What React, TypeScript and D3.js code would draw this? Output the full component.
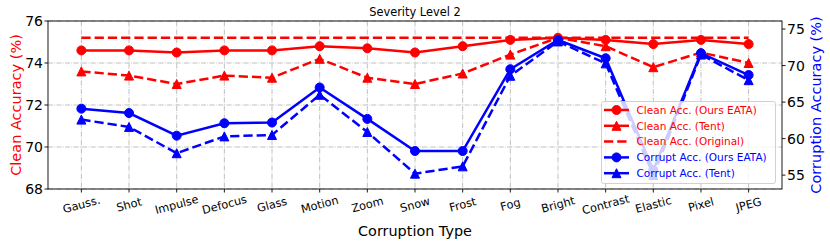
import React from 'react';
import * as d3 from 'd3';

const categories = ['Gauss.', 'Shot', 'Impulse', 'Defocus', 'Glass', 'Motion', 'Zoom', 'Snow', 'Frost', 'Fog', 'Bright', 'Contrast', 'Elastic', 'Pixel', 'JPEG'];

// left axis (clean accuracy)
const cleanEata = [74.6, 74.6, 74.5, 74.6, 74.6, 74.8, 74.7, 74.5, 74.8, 75.1, 75.2, 75.1, 74.9, 75.1, 74.9];
const cleanTent = [73.6, 73.4, 73.0, 73.4, 73.3, 74.2, 73.3, 73.0, 73.5, 74.4, 75.2, 74.8, 73.8, 74.5, 74.0];
const cleanOriginal = [75.2, 75.2, 75.2, 75.2, 75.2, 75.2, 75.2, 75.2, 75.2, 75.2, 75.2, 75.2, 75.2, 75.2, 75.2];

// right axis (corruption accuracy)
const corruptEata = [64.1, 63.5, 60.4, 62.1, 62.2, 67.0, 62.7, 58.3, 58.3, 69.5, 73.5, 71.0, 55.7, 71.7, 68.7];
const corruptTent = [62.6, 61.6, 58.0, 60.3, 60.5, 66.0, 60.9, 55.2, 56.2, 68.6, 73.3, 70.3, 55.0, 71.5, 68.0];

const leftTicks = [68, 70, 72, 74, 76];
const rightTicks = [55, 60, 65, 70, 75];

const RED = '#ff0000';
const BLUE = '#0000ff';
const FONT = 'DejaVu Sans, sans-serif';

const left = 48, right = 782, top = 21, bottom = 189;

const App = () => {
  const x = d3.scalePoint<string>().domain(categories).range([left, right]).padding(0.7);
  const yL = d3.scaleLinear().domain([68, 76]).range([bottom, top]);
  const yR = d3.scaleLinear().domain([53.1, 76.1]).range([bottom, top]);

  const lineFor = (vals: number[], y: d3.ScaleLinear<number, number>) =>
    d3.line<number>().x((_, i) => x(categories[i]) as number).y((d) => y(d))(vals) as string;

  const tri = (cx: number, cy: number, s = 9) =>
    `M${cx},${cy - s / 2}L${cx - s / 2},${cy + s / 2}L${cx + s / 2},${cy + s / 2}Z`;

  const series = [
    { vals: cleanEata, y: yL, color: RED, dash: null, marker: 'circle' },
    { vals: cleanTent, y: yL, color: RED, dash: '9.25,4', marker: 'triangle' },
    { vals: cleanOriginal, y: yL, color: RED, dash: '9.25,4', marker: null },
    { vals: corruptEata, y: yR, color: BLUE, dash: null, marker: 'circle' },
    { vals: corruptTent, y: yR, color: BLUE, dash: '9.25,4', marker: 'triangle' },
  ];

  const legendItems = [
    { label: 'Clean Acc. (Ours EATA)', color: RED, dash: null, marker: 'circle' },
    { label: 'Clean Acc. (Tent)', color: RED, dash: null, marker: 'triangle' },
    { label: 'Clean Acc. (Original)', color: RED, dash: '9.25,4', marker: null },
    { label: 'Corrupt Acc. (Ours EATA)', color: BLUE, dash: null, marker: 'circle' },
    { label: 'Corrupt Acc. (Tent)', color: BLUE, dash: null, marker: 'triangle' },
  ];

  return (
    <svg width={830} height={248} style={{ position: 'absolute', left: 0, top: 0 }} fontFamily={FONT}>
      <rect width={830} height={248} fill="#fff" />
      {/* grid */}
      <g stroke="#b0b0b0" strokeWidth={0.8} strokeDasharray="5.1,1.3,0.8,1.3">
        {categories.map((c) => (
          <line key={c} x1={x(c)} x2={x(c)} y1={top} y2={bottom} />
        ))}
        {leftTicks.map((t) => (
          <line key={t} x1={left} x2={right} y1={yL(t)} y2={yL(t)} />
        ))}
      </g>

      {/* series */}
      {series.map((s, k) => (
        <g key={k}>
          <path d={lineFor(s.vals, s.y)} fill="none" stroke={s.color} strokeWidth={2.5}
            strokeDasharray={s.dash || undefined} />
          {s.marker === 'circle' && s.vals.map((v, i) => (
            <circle key={i} cx={x(categories[i])} cy={s.y(v)} r={4.5} fill={s.color} stroke={s.color} />
          ))}
          {s.marker === 'triangle' && s.vals.map((v, i) => (
            <path key={i} d={tri(x(categories[i]) as number, s.y(v))} fill={s.color} stroke={s.color} />
          ))}
        </g>
      ))}

      {/* spines */}
      <rect x={left} y={top} width={right - left} height={bottom - top} fill="none" stroke="#000" strokeWidth={0.9} />

      {/* left axis */}
      {leftTicks.map((t) => (
        <g key={t}>
          <line x1={left - 3.5} x2={left} y1={yL(t)} y2={yL(t)} stroke="#000" strokeWidth={0.9} />
          <text x={left - 5} y={yL(t)} dy="0.36em" textAnchor="end" fontSize={14}>{t}</text>
        </g>
      ))}
      {/* right axis */}
      {rightTicks.map((t) => (
        <g key={t}>
          <line x1={right} x2={right + 3.5} y1={yR(t)} y2={yR(t)} stroke="#000" strokeWidth={0.9} />
          <text x={right + 5} y={yR(t)} dy="0.36em" textAnchor="start" fontSize={14}>{t}</text>
        </g>
      ))}
      {/* bottom axis */}
      {categories.map((c) => (
        <g key={c}>
          <line x1={x(c)} x2={x(c)} y1={bottom} y2={bottom + 3.5} stroke="#000" strokeWidth={0.9} />
          <text transform={`translate(${x(c)},${204.5}) rotate(-15)`} textAnchor="middle" dy="0.35em" fontSize={11.3}>{c}</text>
        </g>
      ))}

      <text x={(left + right) / 2} y={236} textAnchor="middle" fontSize={14.4}>Corruption Type</text>
      <text transform={`translate(21,${(top + bottom) / 2}) rotate(-90)`} textAnchor="middle" fill={RED} fontSize={14.5}>Clean Accuracy (%)</text>
      <text transform={`translate(821,${(top + bottom) / 2}) rotate(-90)`} textAnchor="middle" fill={BLUE} fontSize={14.5}>Corruption Accuracy (%)</text>
      <text x={(left + right) / 2} y={16} textAnchor="middle" fontSize={11.4}>Severity Level 2</text>

      {/* legend */}
      <g>
        <rect x={601.5} y={101.5} width={174} height={82} rx={2} fill="#fff" fillOpacity={0.8} stroke="#cccccc" strokeWidth={0.9} />
        {legendItems.map((it, i) => {
          const cy = 110 + i * 15.8;
          return (
            <g key={it.label}>
              <line x1={604} x2={629} y1={cy} y2={cy} stroke={it.color} strokeWidth={2.5} strokeDasharray={it.dash || undefined} />
              {it.marker === 'circle' && <circle cx={616.5} cy={cy} r={4.5} fill={it.color} stroke={it.color} />}
              {it.marker === 'triangle' && <path d={tri(616.5, cy)} fill={it.color} stroke={it.color} />}
              <text x={636.5} y={cy} dy="0.36em" fontSize={10.5} fill={it.color}>{it.label}</text>
            </g>
          );
        })}
      </g>
    </svg>
  );
};

export default App;
